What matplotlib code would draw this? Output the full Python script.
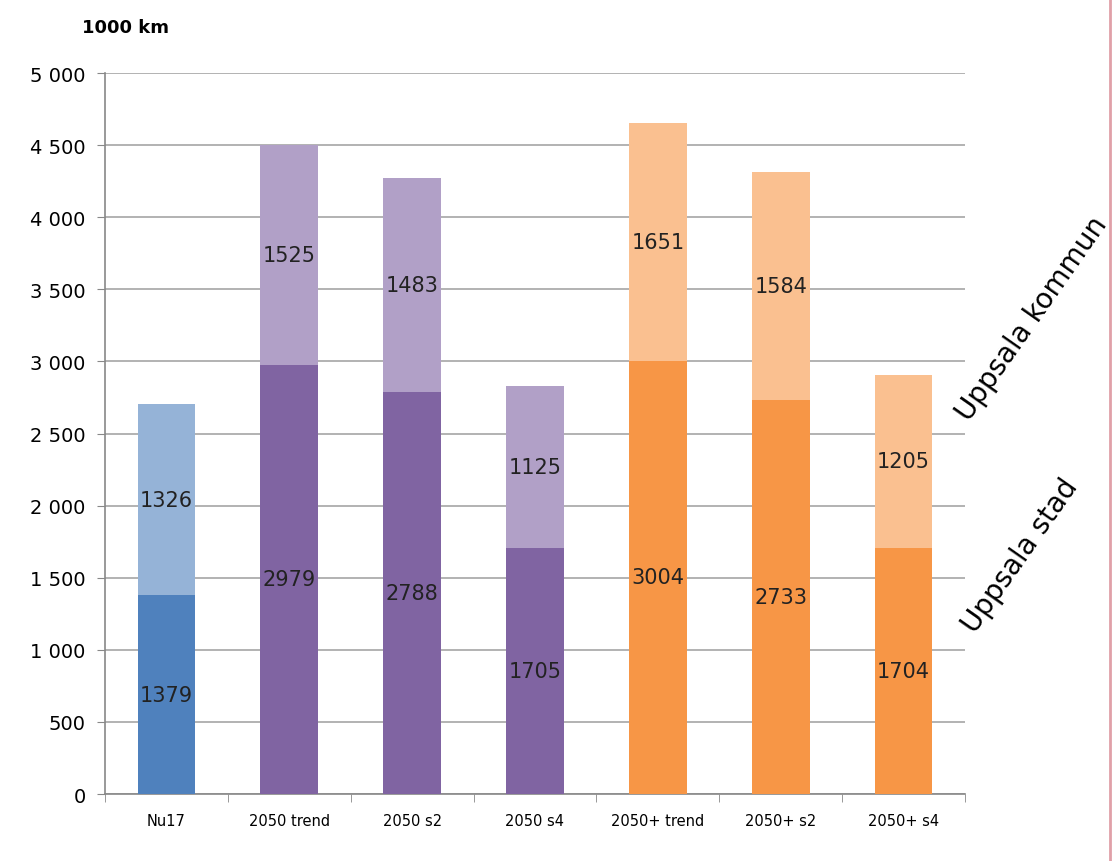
import numpy as np
import matplotlib.pyplot as plt

categories = ['Nu17', '2050 trend', '2050 s2', '2050 s4',
              '2050+ trend', '2050+ s2', '2050+ s4']
stad = [1379, 2979, 2788, 1705, 3004, 2733, 1704]
kommun = [1326, 1525, 1483, 1125, 1651, 1584, 1205]

dark_colors = ['#4F81BD', '#8064A2', '#8064A2', '#8064A2',
               '#F79646', '#F79646', '#F79646']
light_colors = ['#95B3D7', '#B1A0C7', '#B1A0C7', '#B1A0C7',
                '#FAC090', '#FAC090', '#FAC090']

fig = plt.figure(figsize=(11.13, 8.62), dpi=100)
ax = fig.add_axes([0.0943, 0.0777, 0.7727, 0.8363])

x = np.arange(len(categories))
ax.bar(x, stad, width=0.47, color=dark_colors, zorder=3)
ax.bar(x, kommun, width=0.47, bottom=stad, color=light_colors, zorder=3)

for i in range(len(categories)):
    ax.text(x[i], stad[i] / 2, str(stad[i]), ha='center', va='center',
            fontsize=15, color='#222222', zorder=4)
    ax.text(x[i], stad[i] + kommun[i] / 2, str(kommun[i]), ha='center',
            va='center', fontsize=15, color='#222222', zorder=4)

ax.set_xlim(-0.5, len(categories) - 0.5)
ax.set_ylim(0, 5000)
yticks = np.arange(0, 5001, 500)
ax.set_yticks(yticks)
ax.set_yticklabels([f'{v:,}'.replace(',', ' ') for v in yticks], fontsize=14)
ax.yaxis.grid(True, color='#A6A6A6', linewidth=1.2, zorder=0)
ax.set_axisbelow(True)

ax.set_xticks(x)
ax.set_xticklabels(categories, fontsize=10.5)
ax.set_xticks(np.arange(-0.5, len(categories)), minor=True)
ax.tick_params(axis='x', which='major', length=0, pad=14)
ax.tick_params(axis='x', which='minor', length=6, color='#888888')
ax.tick_params(axis='y', length=6, color='#888888', pad=8)

for side in ['top', 'right']:
    ax.spines[side].set_visible(False)
ax.spines['left'].set_color('#888888')
ax.spines['bottom'].set_color('#888888')
ax.spines['left'].set_linewidth(1.2)
ax.spines['bottom'].set_linewidth(1.2)

fig.text(0.074, 0.967, '1000 km', fontsize=13, fontweight='bold',
         ha='left', va='center')
fig.text(0.927, 0.63, 'Uppsala kommun', fontsize=20, rotation=55,
         ha='center', va='center')
fig.text(0.917, 0.355, 'Uppsala stad', fontsize=20, rotation=55,
         ha='center', va='center')

fig.add_artist(plt.Line2D([0.997, 0.997], [0, 1], color='#E0A0A8',
                          linewidth=2, transform=fig.transFigure))

fig.savefig('out.png', dpi=100)
